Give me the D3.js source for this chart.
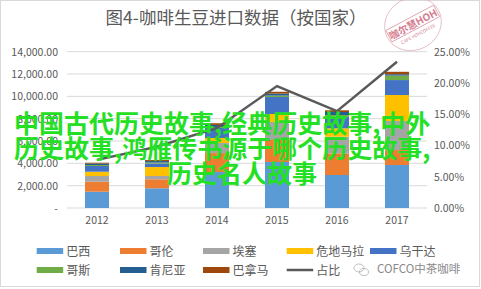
<!DOCTYPE html>
<html>
<head>
<meta charset="utf-8">
<script src="https://cdn.jsdelivr.net/npm/d3@7/dist/d3.min.js"></script>
<style>
  html, body { margin: 0; padding: 0; background: #fff; }
  svg { display: block; font-family: "Noto Sans CJK SC", "Noto Sans", sans-serif; }
</style>
</head>
<body>
<div id="chart"></div>
<script>
// data
const years = ['2012', '2013', '2014', '2015', '2016', '2017'];
const countries = ['巴西', '哥伦', '埃塞', '危地马拉', '乌干达', '哥斯', '肯尼亚', '巴拿马'];
const colors = ['#5B9BD5', '#ED7D31', '#A5A5A5', '#FFC000', '#4472C4', '#70AD47', '#255E91', '#9E480E'];

const brazil    = [1460, 1765, 3220, 4120, 2955, 3850];
const colombia  = [895, 805, 1700, 1970, 1940, 1340];
const ethiopia  = [510, 300, 900, 1610, 1490, 2600];
const guatemala = [385, 800, 450, 720, 750, 2330];
const uganda    = [510, 310, 900, 1520, 1045, 1340];
const costa     = [90, 90, 90, 130, 150, 400];
const kenya     = [135, 135, 180, 180, 270, 120];
const panama    = [70, 90, 150, 160, 150, 220];
const share     = [0.077, 0.098, 0.128, 0.195, 0.155, 0.234];

const seriesValues = [brazil, colombia, ethiopia, guatemala, uganda, costa, kenya, panama];
const leftTicks = [0, 2000, 4000, 6000, 8000, 10000, 12000, 14000];
const rightTicks = [0, 0.05, 0.10, 0.15, 0.20, 0.25];

const overlayLines = ['中国古代历史故事,经典历史故事,中外', '历史故事,鸿雁传书源于哪个历史故事,', '历史名人故事'];

const width = 481, height = 289;
const textColor = '#595959';

const svg = d3.select('#chart').append('svg')
    .attr('width', width)
    .attr('height', height);

// outer frame
svg.append('rect')
    .attr('x', 0.5).attr('y', 0.5)
    .attr('width', width - 2).attr('height', height - 3)
    .attr('fill', '#fff')
    .attr('stroke', '#d9d9d9');

// title
svg.append('text')
    .attr('x', 236).attr('y', 24)
    .attr('text-anchor', 'middle')
    .attr('font-size', 17.5)
    .attr('fill', textColor)
    .text('图4-咖啡生豆进口数据（按国家）');

// scales
const x = d3.scaleBand()
    .domain(years)
    .range([67, 427])
    .paddingInner(0.6)
    .paddingOuter(0.3);
const y = d3.scaleLinear().domain([0, 14000]).range([208, 51.7]);
const y2 = d3.scaleLinear().domain([0, 0.25]).range([208, 51.7]);

// gridlines
svg.append('g')
    .selectAll('line')
    .data(leftTicks)
    .join('line')
    .attr('x1', 67).attr('x2', 427)
    .attr('y1', d => y(d)).attr('y2', d => y(d))
    .attr('stroke', '#d9d9d9')
    .attr('stroke-width', 1);

// axes
const fmtLeft = d3.format(',.2f');
const leftAxis = svg.append('g')
    .attr('transform', 'translate(61,0)')
    .call(d3.axisLeft(y).tickValues(leftTicks).tickSize(0)
        .tickFormat(d => d === 0 ? '-' : fmtLeft(d)));
const rightAxis = svg.append('g')
    .attr('transform', 'translate(431,0)')
    .call(d3.axisRight(y2).tickValues(rightTicks).tickSize(0)
        .tickFormat(d3.format('.2%')));
const bottomAxis = svg.append('g')
    .attr('transform', 'translate(0,208)')
    .call(d3.axisBottom(x).tickSize(0).tickPadding(9));

[leftAxis, rightAxis, bottomAxis].forEach(g => {
    g.select('.domain').remove();
    g.selectAll('text')
        .attr('fill', textColor)
        .style('font-family', '"Noto Sans CJK SC", sans-serif')
        .style('font-size', '10.5px');
});
leftAxis.selectAll('text').attr('x', -3);
rightAxis.selectAll('text').attr('x', 3);

// stacked bars
const table = years.map((yr, i) => {
    const row = { year: yr };
    countries.forEach((c, j) => { row[c] = seriesValues[j][i]; });
    return row;
});
const stacked = d3.stack().keys(countries)(table);

svg.append('g')
    .selectAll('g')
    .data(stacked)
    .join('g')
    .attr('fill', (d, i) => colors[i])
    .selectAll('rect')
    .data(d => d)
    .join('rect')
    .attr('x', d => x(d.data.year))
    .attr('width', x.bandwidth())
    .attr('y', d => y(d[1]))
    .attr('height', d => y(d[0]) - y(d[1]));

// share line
const line = d3.line()
    .x((d, i) => x(years[i]) + x.bandwidth() / 2)
    .y(d => y2(d));
svg.append('path')
    .datum(share)
    .attr('d', line)
    .attr('fill', 'none')
    .attr('stroke', '#595959')
    .attr('stroke-width', 2.5);

// stamp watermark top right
const stamp = svg.append('g')
    .attr('transform', 'translate(413,24) rotate(-28)')
    .attr('opacity', 0.75);
stamp.append('ellipse')
    .attr('rx', 29).attr('ry', 26)
    .attr('fill', 'none')
    .attr('stroke', '#d9a0a8')
    .attr('stroke-width', 0.8);
stamp.append('rect')
    .attr('x', -27).attr('y', -7).attr('width', 54).attr('height', 13)
    .attr('fill', 'none')
    .attr('stroke', '#d27a88')
    .attr('stroke-width', 0.8);
stamp.append('text')
    .attr('x', 0).attr('y', 4)
    .attr('text-anchor', 'middle')
    .attr('font-size', 10)
    .attr('font-weight', 'bold')
    .attr('fill', '#c9506a')
    .text('咖尔慧HOH');
stamp.append('text')
    .attr('x', 0).attr('y', 13)
    .attr('text-anchor', 'middle')
    .attr('font-size', 4.5)
    .attr('fill', '#c9506a')
    .text('CAFE HOHCOFFEE');

// legend
const legendCols = [36.7, 120, 203, 286.7, 370];
const legendItems = countries.map((c, i) => ({ name: c, color: colors[i], type: 'rect' }))
    .concat([{ name: '占比', color: '#595959', type: 'line' }]);

const legend = svg.append('g');
const item = legend.selectAll('g')
    .data(legendItems)
    .join('g')
    .attr('transform', (d, i) => {
        const row = i < 5 ? 0 : 1;
        const col = i < 5 ? i : i - 5;
        return `translate(${legendCols[col]},${row === 0 ? 251 : 270})`;
    });
item.filter(d => d.type === 'rect').append('rect')
    .attr('x', 0).attr('y', -3)
    .attr('width', 26.5).attr('height', 6)
    .attr('fill', d => d.color);
item.filter(d => d.type === 'line').append('line')
    .attr('x1', 0).attr('x2', 26.5)
    .attr('stroke', d => d.color)
    .attr('stroke-width', 2.5);
item.append('text')
    .attr('x', 29.5).attr('y', 4.5)
    .attr('font-size', 12)
    .attr('fill', textColor)
    .text(d => d.name);

// wechat watermark
const wx = svg.append('g').attr('transform', 'translate(361,270)').attr('fill', 'none').attr('stroke', '#b0b0b0').attr('stroke-width', 0.8);
wx.append('ellipse').attr('cx', -2).attr('cy', -2).attr('rx', 5).attr('ry', 4);
wx.append('ellipse').attr('cx', 3).attr('cy', 2).attr('rx', 4.5).attr('ry', 3.5);
svg.append('text')
    .attr('x', 377).attr('y', 273)
    .attr('font-size', 11.5)
    .attr('fill', '#8a8a8a')
    .text('COFCO中茶咖啡');

// green overlay text
svg.append('g')
    .selectAll('text')
    .data(overlayLines)
    .join('text')
    .attr('x', (d, i) => i < 2 ? 14 : 242)
    .attr('y', (d, i) => 133 + i * 25)
    .attr('text-anchor', (d, i) => i < 2 ? 'start' : 'middle')
    .attr('font-size', 25)
    .attr('font-weight', 'bold')
    .attr('fill', '#24e024')
    .text(d => d);
</script>
</body>
</html>
